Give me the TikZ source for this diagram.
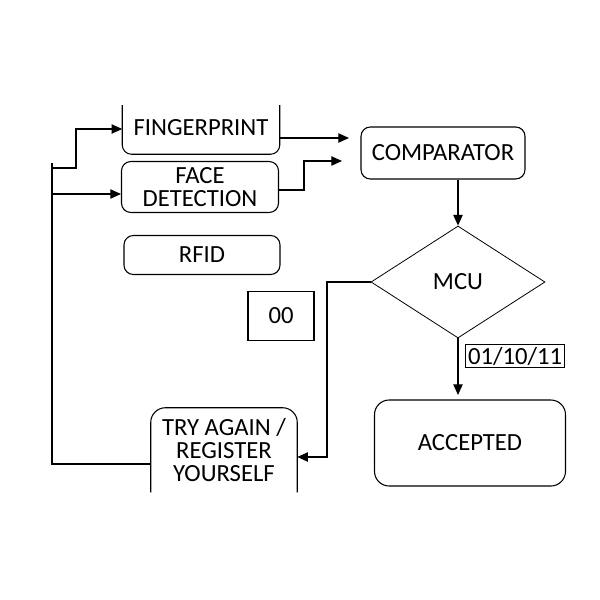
\documentclass[tikz,border=0pt]{standalone}
\usepackage{fontspec}
\setmainfont{Carlito}
\usetikzlibrary{arrows.meta,positioning,shapes.geometric}

\begin{document}
\begin{tikzpicture}[x=0.75pt,y=-0.75pt,font=\fontsize{18.5}{17}\selectfont,
  box/.style={rounded corners=7pt,align=center,inner sep=0pt},
  plain/.style={draw,line width=0.8pt,align=center,inner sep=0pt},
  link/.style={line width=0.9pt,-{Triangle[length=8pt,width=7pt]}},
  wire/.style={line width=0.9pt}]
  \useasboundingbox (0,0) rectangle (600,600);
  % input blocks
  \node[box,minimum width=117.75pt,minimum height=39pt] (fp) at (201,128) {FINGERPRINT};
  \draw[line width=0.8pt,rounded corners=7pt] (fp.west |- 0,105) -- (fp.south west) -- (fp.south east) -- (fp.east |- 0,105);
  \node[box,draw,line width=0.8pt,minimum width=117.75pt,minimum height=38.25pt] (face) at (200,187) {FACE\\DETECTION};
  \node[box,draw,line width=0.8pt,minimum width=117pt,minimum height=29.25pt] (rfid) at (202,255) {RFID};
  % processing
  \node[box,draw,line width=0.8pt,minimum width=123pt,minimum height=39pt] (cmp) at (443,153) {COMPARATOR};
  \node[diamond,draw,line width=0.6pt,inner sep=0pt,minimum width=130.5pt,minimum height=84pt] (mcu) at (458,282) {MCU};
  \node[plain,minimum width=49.5pt,minimum height=36.75pt] (zero) at (281,316) {00};
  \node[box,draw,line width=0.8pt,rounded corners=11pt,minimum width=143.25pt,minimum height=64.5pt] (acc) at (470,443) {ACCEPTED};
  \node[box,minimum width=109.5pt,minimum height=63pt] (try) at (224,450) {TRY AGAIN /\\REGISTER\\YOURSELF};
  \draw[line width=0.8pt,rounded corners=11pt] (try.south west) -- (try.north west) -- (try.north east) -- (try.south east);
  % feedback bus
  \coordinate (bt) at (52,163);
  \coordinate (bb) at (52,464);
  \draw[wire] (bt) -- (bb) -- (try.west |- bb);
  \draw[link] (52,168) -- (76,168) -- (76,129) -- (fp.west |- 0,129);
  \draw[link] (52,194) -- (face.west |- 0,194);
  % to comparator
  \draw[link] (fp.east |- 0,138) -- (349,138);
  \draw[link] (face.east |- 0,190) -- (304,190) -- (304,161) -- (342,161);
  \draw[link] (cmp.south -| mcu.north) -- (mcu.north);
  % decisions
  \draw[link] (mcu.west) -- (327,282) -- (327,457) -- (try.east |- 0,457);
  \draw[link] (mcu.south) -- (458,395);
  \node[plain,line width=0.7pt,inner xsep=2pt,inner ysep=2pt,anchor=west] (code) at (465,356) {01/10/11};
\end{tikzpicture}
\end{document}
